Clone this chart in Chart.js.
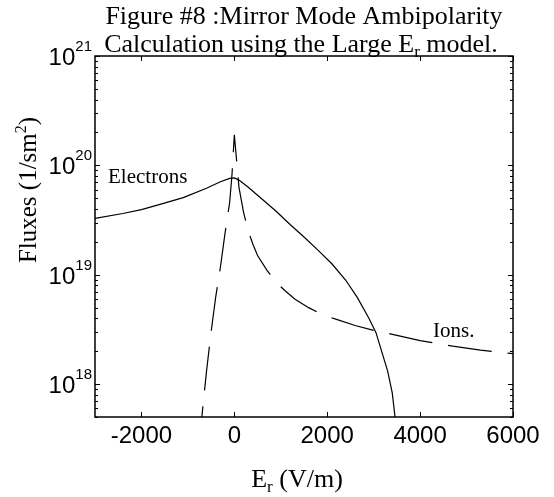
<!DOCTYPE html>
<html>
<head>
<meta charset="utf-8">
<script src="https://cdn.jsdelivr.net/npm/chart.js@4"></script>
<style>
  body { margin: 0; background: #fff; }
  canvas { display: block; }
</style>
</head>
<body>
<canvas id="fluxChart" width="554" height="497"></canvas>
<script>
const elecEr = [-3000, -2400, -2000, -1600, -1100, -600, -300, -100, 0, 100, 300, 600, 900, 1200, 1500, 1800, 2100, 2400, 2650, 2900, 3050, 3200, 3300, 3400, 3460, 3520];
const elecFlux = [3.27e19, 3.63e19, 3.94e19, 4.40e19, 5.07e19, 6.17e19, 7.08e19, 7.59e19, 7.67e19, 7.33e19, 6.31e19, 4.90e19, 3.80e19, 2.88e19, 2.21e19, 1.68e19, 1.26e19, 8.9e18, 6.17e18, 3.98e18, 2.95e18, 1.82e18, 1.32e18, 8.3e17, 5.0e17, 2.24e17];

const ionEr = [-800, -700, -600, -500, -400, -300, -200, -100, -50, 0, 100, 200, 300, 400, 500, 700, 900, 1100, 1300, 1600, 1900, 2200, 2600, 3000, 3500, 4000, 4700, 5300, 6000];
const ionFlux = [2.5e17, 5.0e17, 1.3e18, 3.0e18, 6.3e18, 1.17e19, 2.4e19, 4.6e19, 8.3e19, 1.9e20, 6.3e19, 3.7e19, 2.5e19, 1.9e19, 1.5e19, 1.1e19, 8.5e18, 7.1e18, 6.0e18, 5.0e18, 4.3e18, 3.9e18, 3.43e18, 3.1e18, 2.79e18, 2.5e18, 2.22e18, 2.04e18, 1.9e18];

const xTicks = [-2000, 0, 2000, 4000, 6000];
const yTickExps = [18, 19, 20, 21];

const SERIF = '"Liberation Serif", "Times New Roman", serif';
const SANS = '"Liberation Sans", Arial, sans-serif';

// draws a run of text pieces, each with its own size and baseline shift
function drawPieces(ctx, pieces, x, y, align) {
  let total = 0;
  pieces.forEach(p => {
    ctx.font = p.font;
    p.w = ctx.measureText(p.text).width;
    total += p.w;
  });
  let cx = align === 'center' ? x - total / 2 : (align === 'right' ? x - total : x);
  ctx.textAlign = 'left';
  ctx.textBaseline = 'alphabetic';
  pieces.forEach(p => {
    ctx.font = p.font;
    ctx.fillText(p.text, cx, y + (p.dy || 0));
    cx += p.w;
  });
}

const framePlugin = {
  id: 'frame',
  afterDraw(chart) {
    const ctx = chart.ctx;
    const area = chart.chartArea;
    const xs = chart.scales.x;
    const ys = chart.scales.y;
    ctx.save();
    ctx.strokeStyle = '#000';
    ctx.fillStyle = '#000';

    ctx.lineWidth = 1.5;
    ctx.strokeRect(area.left, area.top, area.right - area.left, area.bottom - area.top);

    // inward ticks
    ctx.lineWidth = 1;
    ctx.beginPath();
    xTicks.forEach(v => {
      const px = Math.round(xs.getPixelForValue(v)) + 0.5;
      ctx.moveTo(px, area.bottom); ctx.lineTo(px, area.bottom - 5);
      ctx.moveTo(px, area.top); ctx.lineTo(px, area.top + 5);
    });
    for (let e = 17; e <= 21; e++) {
      for (let m = 1; m <= 9; m++) {
        const v = m * Math.pow(10, e);
        if (v < ys.min || v > ys.max) continue;
        const py = Math.round(ys.getPixelForValue(v)) + 0.5;
        const len = m === 1 ? 5 : 3;
        ctx.moveTo(area.left, py); ctx.lineTo(area.left + len, py);
        ctx.moveTo(area.right, py); ctx.lineTo(area.right - len, py);
      }
    }
    ctx.stroke();

    // x tick labels
    ctx.font = '24px ' + SANS;
    ctx.textAlign = 'center';
    ctx.textBaseline = 'alphabetic';
    xTicks.forEach(v => {
      ctx.fillText(String(v), xs.getPixelForValue(v), area.bottom + 26);
    });

    // y tick labels 10^n
    yTickExps.forEach(e => {
      const py = ys.getPixelForValue(Math.pow(10, e));
      drawPieces(ctx, [
        {text: '10', font: '24px ' + SANS},
        {text: String(e), font: '15px ' + SANS, dy: -14}
      ], area.left - 3, py + 9, 'right');
    });

    // title
    drawPieces(ctx, [{text: 'Figure #8 :Mirror Mode Ambipolarity', font: '26px ' + SERIF}], 304, 24, 'center');
    drawPieces(ctx, [
      {text: 'Calculation using the Large E', font: '26px ' + SERIF},
      {text: 'r', font: '17px ' + SERIF, dy: 5},
      {text: ' model.', font: '26px ' + SERIF}
    ], 301, 52, 'center');

    // axis titles
    drawPieces(ctx, [
      {text: 'E', font: '26px ' + SERIF},
      {text: 'r', font: '17px ' + SERIF, dy: 5},
      {text: ' (V/m)', font: '26px ' + SERIF}
    ], 297, 487, 'center');

    ctx.save();
    ctx.translate(36, 190);
    ctx.rotate(-Math.PI / 2);
    drawPieces(ctx, [
      {text: 'Fluxes (1/sm', font: '25px ' + SERIF},
      {text: '2', font: '16px ' + SERIF, dy: -10},
      {text: ')', font: '25px ' + SERIF}
    ], 0, 0, 'center');
    ctx.restore();

    // curve labels
    drawPieces(ctx, [{text: 'Electrons', font: '21px ' + SERIF}], 108, 183, 'left');
    drawPieces(ctx, [{text: 'Ions.', font: '21px ' + SERIF}], 433, 337, 'left');

    ctx.restore();
  }
};

function renderChart() {
  const ctx = document.getElementById('fluxChart').getContext('2d');
  const toPoints = (xs, ys) => xs.map((x, i) => ({x: x, y: ys[i]}));

  new Chart(ctx, {
    type: 'scatter',
    data: {
      datasets: [{
        label: 'Electrons',
        data: toPoints(elecEr, elecFlux),
        showLine: true,
        borderColor: '#000',
        borderWidth: 1.2,
        pointRadius: 0,
        tension: 0
      }, {
        label: 'Ions.',
        data: toPoints(ionEr, ionFlux),
        showLine: true,
        borderColor: '#000',
        borderWidth: 1.2,
        borderDash: [44, 16],
        pointRadius: 0,
        tension: 0
      }]
    },
    options: {
      responsive: false,
      animation: false,
      devicePixelRatio: 1,
      layout: {
        padding: {left: 95, right: 41, top: 56, bottom: 80}
      },
      scales: {
        x: {type: 'linear', min: -3000, max: 6000, display: false},
        y: {type: 'logarithmic', min: 5e17, max: 1e21, display: false}
      },
      plugins: {
        legend: {display: false},
        tooltip: {enabled: false}
      }
    },
    plugins: [framePlugin]
  });
}

renderChart();
</script>
</body>
</html>
